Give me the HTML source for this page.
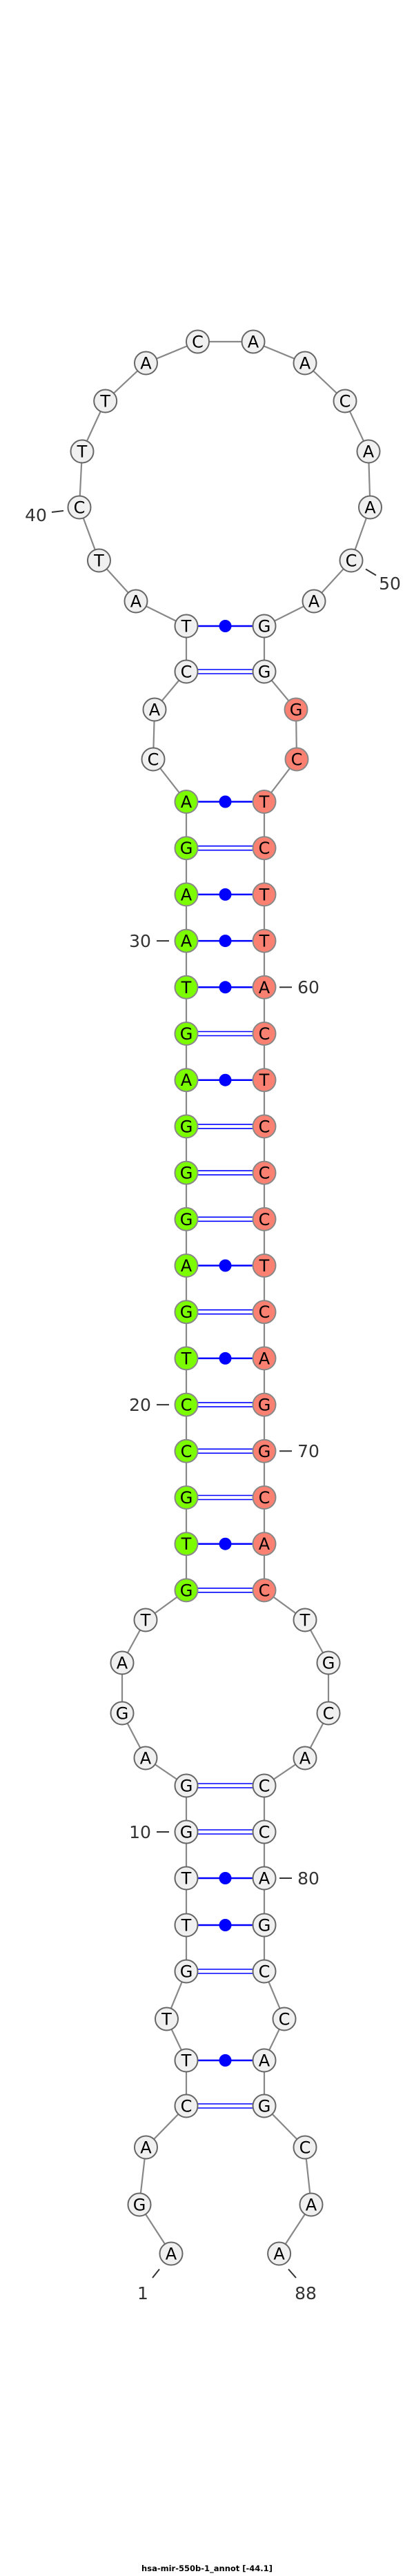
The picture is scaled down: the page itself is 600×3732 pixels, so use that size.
<!DOCTYPE html>
<html><head><meta charset="utf-8"><style>
html,body{margin:0;padding:0;background:#fff}
svg{display:block}
.n{font-family:"DejaVu Sans","Liberation Sans",sans-serif;font-size:24px;text-anchor:middle;fill:#000}
.l{font-family:"DejaVu Sans","Liberation Sans",sans-serif;font-size:25px;text-anchor:middle;fill:#333}
.w{fill:#f0f0f0;stroke:#666;stroke-width:2}
.g{fill:#7cfc00;stroke:#888;stroke-width:2}
.s{fill:#fa8072;stroke:#888;stroke-width:2}
.p{stroke:#00f;stroke-width:2.5}
.d{stroke:#00f;stroke-width:1.6}
</style></head><body>
<svg width="600" height="3732" viewBox="0 0 600 3732" xmlns="http://www.w3.org/2000/svg">
<polyline fill="none" stroke="#888" stroke-width="2.2" points="248,3265 202,3194 211.5,3111 270,3051 270,2985 241.5,2925 270,2856 270,2789 270,2721 270,2654 270,2587 211,2547 177,2482 177,2409 211,2347 270,2303.9 270,2236.7 270,2169.5 270,2102.3 270,2035.1 270,1967.9 270,1900.7 270,1833.5 270,1766.3 270,1699.1 270,1631.9 270,1564.7 270,1497.5 270,1430.3 270,1363.1 270,1295.9 270,1228.7 270,1161.5 222,1100 224,1028 270,973 270,907 197,871 143.5,812 115,735 119,654 152.7,581 211.5,526 286.5,495 367,495 442,526 500,581 534,654 536.5,735 509,812 455,871 383,907 383,973 429,1028 430,1100 383,1161.5 383,1228.7 383,1295.9 383,1363.1 383,1430.3 383,1497.5 383,1564.7 383,1631.9 383,1699.1 383,1766.3 383,1833.5 383,1900.7 383,1967.9 383,2035.1 383,2102.3 383,2169.5 383,2236.7 383,2303.9 442,2347 476,2409 476,2482 442,2547 383,2587 383,2654 383,2721 383,2789 383,2856 412,2925 383,2985 383,3051 442,3111 451,3194 404.6,3265"/>
<!-- single/dot pairs -->
<g class="p">
<line x1="287" y1="907" x2="366" y2="907"/>
<line x1="287" y1="1161.5" x2="366" y2="1161.5"/>
<line x1="287" y1="1295.9" x2="366" y2="1295.9"/>
<line x1="287" y1="1363.1" x2="366" y2="1363.1"/>
<line x1="287" y1="1430.3" x2="366" y2="1430.3"/>
<line x1="287" y1="1564.7" x2="366" y2="1564.7"/>
<line x1="287" y1="1833.5" x2="366" y2="1833.5"/>
<line x1="287" y1="1967.9" x2="366" y2="1967.9"/>
<line x1="287" y1="2236.7" x2="366" y2="2236.7"/>
<line x1="287" y1="2721" x2="366" y2="2721"/>
<line x1="287" y1="2789" x2="366" y2="2789"/>
<line x1="287" y1="2985" x2="366" y2="2985"/>
</g>
<g fill="#00f">
<circle cx="326.5" cy="907" r="9"/>
<circle cx="326.5" cy="1161.5" r="9"/>
<circle cx="326.5" cy="1295.9" r="9"/>
<circle cx="326.5" cy="1363.1" r="9"/>
<circle cx="326.5" cy="1430.3" r="9"/>
<circle cx="326.5" cy="1564.7" r="9"/>
<circle cx="326.5" cy="1833.5" r="9"/>
<circle cx="326.5" cy="1967.9" r="9"/>
<circle cx="326.5" cy="2236.7" r="9"/>
<circle cx="326.5" cy="2721" r="9"/>
<circle cx="326.5" cy="2789" r="9"/>
<circle cx="326.5" cy="2985" r="9"/>
</g>
<!-- double pairs -->
<g class="d">
<line x1="287" y1="970" x2="366" y2="970"/><line x1="287" y1="976" x2="366" y2="976"/>
<line x1="287" y1="1225.7" x2="366" y2="1225.7"/><line x1="287" y1="1231.7" x2="366" y2="1231.7"/>
<line x1="287" y1="1494.5" x2="366" y2="1494.5"/><line x1="287" y1="1500.5" x2="366" y2="1500.5"/>
<line x1="287" y1="1628.9" x2="366" y2="1628.9"/><line x1="287" y1="1634.9" x2="366" y2="1634.9"/>
<line x1="287" y1="1696.1" x2="366" y2="1696.1"/><line x1="287" y1="1702.1" x2="366" y2="1702.1"/>
<line x1="287" y1="1763.3" x2="366" y2="1763.3"/><line x1="287" y1="1769.3" x2="366" y2="1769.3"/>
<line x1="287" y1="1897.7" x2="366" y2="1897.7"/><line x1="287" y1="1903.7" x2="366" y2="1903.7"/>
<line x1="287" y1="2032.1" x2="366" y2="2032.1"/><line x1="287" y1="2038.1" x2="366" y2="2038.1"/>
<line x1="287" y1="2099.3" x2="366" y2="2099.3"/><line x1="287" y1="2105.3" x2="366" y2="2105.3"/>
<line x1="287" y1="2166.5" x2="366" y2="2166.5"/><line x1="287" y1="2172.5" x2="366" y2="2172.5"/>
<line x1="287" y1="2300.9" x2="366" y2="2300.9"/><line x1="287" y1="2306.9" x2="366" y2="2306.9"/>
<line x1="287" y1="2584" x2="366" y2="2584"/><line x1="287" y1="2590" x2="366" y2="2590"/>
<line x1="287" y1="2651" x2="366" y2="2651"/><line x1="287" y1="2657" x2="366" y2="2657"/>
<line x1="287" y1="2853" x2="366" y2="2853"/><line x1="287" y1="2859" x2="366" y2="2859"/>
<line x1="287" y1="3048" x2="366" y2="3048"/><line x1="287" y1="3054" x2="366" y2="3054"/>
</g>
<!-- nodes -->
<g>
<circle class="w" cx="248" cy="3265" r="16.5"/><text class="n" x="248" y="3273.5">A</text>
<circle class="w" cx="202" cy="3194" r="16.5"/><text class="n" x="202" y="3202.5">G</text>
<circle class="w" cx="211.5" cy="3111" r="16.5"/><text class="n" x="211.5" y="3119.5">A</text>
<circle class="w" cx="270" cy="3051" r="16.5"/><text class="n" x="270" y="3059.5">C</text>
<circle class="w" cx="270" cy="2985" r="16.5"/><text class="n" x="270" y="2993.5">T</text>
<circle class="w" cx="241.5" cy="2925" r="16.5"/><text class="n" x="241.5" y="2933.5">T</text>
<circle class="w" cx="270" cy="2856" r="16.5"/><text class="n" x="270" y="2864.5">G</text>
<circle class="w" cx="270" cy="2789" r="16.5"/><text class="n" x="270" y="2797.5">T</text>
<circle class="w" cx="270" cy="2721" r="16.5"/><text class="n" x="270" y="2729.5">T</text>
<circle class="w" cx="270" cy="2654" r="16.5"/><text class="n" x="270" y="2662.5">G</text>
<circle class="w" cx="270" cy="2587" r="16.5"/><text class="n" x="270" y="2595.5">G</text>
<circle class="w" cx="211" cy="2547" r="16.5"/><text class="n" x="211" y="2555.5">A</text>
<circle class="w" cx="177" cy="2482" r="16.5"/><text class="n" x="177" y="2490.5">G</text>
<circle class="w" cx="177" cy="2409" r="16.5"/><text class="n" x="177" y="2417.5">A</text>
<circle class="w" cx="211" cy="2347" r="16.5"/><text class="n" x="211" y="2355.5">T</text>
<circle class="g" cx="270" cy="2303.9" r="16.5"/><text class="n" x="270" y="2312.4">G</text>
<circle class="g" cx="270" cy="2236.7" r="16.5"/><text class="n" x="270" y="2245.2">T</text>
<circle class="g" cx="270" cy="2169.5" r="16.5"/><text class="n" x="270" y="2178">G</text>
<circle class="g" cx="270" cy="2102.3" r="16.5"/><text class="n" x="270" y="2110.8">C</text>
<circle class="g" cx="270" cy="2035.1" r="16.5"/><text class="n" x="270" y="2043.6">C</text>
<circle class="g" cx="270" cy="1967.9" r="16.5"/><text class="n" x="270" y="1976.4">T</text>
<circle class="g" cx="270" cy="1900.7" r="16.5"/><text class="n" x="270" y="1909.2">G</text>
<circle class="g" cx="270" cy="1833.5" r="16.5"/><text class="n" x="270" y="1842">A</text>
<circle class="g" cx="270" cy="1766.3" r="16.5"/><text class="n" x="270" y="1774.8">G</text>
<circle class="g" cx="270" cy="1699.1" r="16.5"/><text class="n" x="270" y="1707.6">G</text>
<circle class="g" cx="270" cy="1631.9" r="16.5"/><text class="n" x="270" y="1640.4">G</text>
<circle class="g" cx="270" cy="1564.7" r="16.5"/><text class="n" x="270" y="1573.2">A</text>
<circle class="g" cx="270" cy="1497.5" r="16.5"/><text class="n" x="270" y="1506">G</text>
<circle class="g" cx="270" cy="1430.3" r="16.5"/><text class="n" x="270" y="1438.8">T</text>
<circle class="g" cx="270" cy="1363.1" r="16.5"/><text class="n" x="270" y="1371.6">A</text>
<circle class="g" cx="270" cy="1295.9" r="16.5"/><text class="n" x="270" y="1304.4">A</text>
<circle class="g" cx="270" cy="1228.7" r="16.5"/><text class="n" x="270" y="1237.2">G</text>
<circle class="g" cx="270" cy="1161.5" r="16.5"/><text class="n" x="270" y="1170">A</text>
<circle class="w" cx="222" cy="1100" r="16.5"/><text class="n" x="222" y="1108.5">C</text>
<circle class="w" cx="224" cy="1028" r="16.5"/><text class="n" x="224" y="1036.5">A</text>
<circle class="w" cx="270" cy="973" r="16.5"/><text class="n" x="270" y="981.5">C</text>
<circle class="w" cx="270" cy="907" r="16.5"/><text class="n" x="270" y="915.5">T</text>
<circle class="w" cx="197" cy="871" r="16.5"/><text class="n" x="197" y="879.5">A</text>
<circle class="w" cx="143.5" cy="812" r="16.5"/><text class="n" x="143.5" y="820.5">T</text>
<circle class="w" cx="115" cy="735" r="16.5"/><text class="n" x="115" y="743.5">C</text>
<circle class="w" cx="119" cy="654" r="16.5"/><text class="n" x="119" y="662.5">T</text>
<circle class="w" cx="152.7" cy="581" r="16.5"/><text class="n" x="152.7" y="589.5">T</text>
<circle class="w" cx="211.5" cy="526" r="16.5"/><text class="n" x="211.5" y="534.5">A</text>
<circle class="w" cx="286.5" cy="495" r="16.5"/><text class="n" x="286.5" y="503.5">C</text>
<circle class="w" cx="367" cy="495" r="16.5"/><text class="n" x="367" y="503.5">A</text>
<circle class="w" cx="442" cy="526" r="16.5"/><text class="n" x="442" y="534.5">A</text>
<circle class="w" cx="500" cy="581" r="16.5"/><text class="n" x="500" y="589.5">C</text>
<circle class="w" cx="534" cy="654" r="16.5"/><text class="n" x="534" y="662.5">A</text>
<circle class="w" cx="536.5" cy="735" r="16.5"/><text class="n" x="536.5" y="743.5">A</text>
<circle class="w" cx="509" cy="812" r="16.5"/><text class="n" x="509" y="820.5">C</text>
<circle class="w" cx="455" cy="871" r="16.5"/><text class="n" x="455" y="879.5">A</text>
<circle class="w" cx="383" cy="907" r="16.5"/><text class="n" x="383" y="915.5">G</text>
<circle class="w" cx="383" cy="973" r="16.5"/><text class="n" x="383" y="981.5">G</text>
<circle class="s" cx="429" cy="1028" r="16.5"/><text class="n" x="429" y="1036.5">G</text>
<circle class="s" cx="430" cy="1100" r="16.5"/><text class="n" x="430" y="1108.5">C</text>
<circle class="s" cx="383" cy="1161.5" r="16.5"/><text class="n" x="383" y="1170">T</text>
<circle class="s" cx="383" cy="1228.7" r="16.5"/><text class="n" x="383" y="1237.2">C</text>
<circle class="s" cx="383" cy="1295.9" r="16.5"/><text class="n" x="383" y="1304.4">T</text>
<circle class="s" cx="383" cy="1363.1" r="16.5"/><text class="n" x="383" y="1371.6">T</text>
<circle class="s" cx="383" cy="1430.3" r="16.5"/><text class="n" x="383" y="1438.8">A</text>
<circle class="s" cx="383" cy="1497.5" r="16.5"/><text class="n" x="383" y="1506">C</text>
<circle class="s" cx="383" cy="1564.7" r="16.5"/><text class="n" x="383" y="1573.2">T</text>
<circle class="s" cx="383" cy="1631.9" r="16.5"/><text class="n" x="383" y="1640.4">C</text>
<circle class="s" cx="383" cy="1699.1" r="16.5"/><text class="n" x="383" y="1707.6">C</text>
<circle class="s" cx="383" cy="1766.3" r="16.5"/><text class="n" x="383" y="1774.8">C</text>
<circle class="s" cx="383" cy="1833.5" r="16.5"/><text class="n" x="383" y="1842">T</text>
<circle class="s" cx="383" cy="1900.7" r="16.5"/><text class="n" x="383" y="1909.2">C</text>
<circle class="s" cx="383" cy="1967.9" r="16.5"/><text class="n" x="383" y="1976.4">A</text>
<circle class="s" cx="383" cy="2035.1" r="16.5"/><text class="n" x="383" y="2043.6">G</text>
<circle class="s" cx="383" cy="2102.3" r="16.5"/><text class="n" x="383" y="2110.8">G</text>
<circle class="s" cx="383" cy="2169.5" r="16.5"/><text class="n" x="383" y="2178">C</text>
<circle class="s" cx="383" cy="2236.7" r="16.5"/><text class="n" x="383" y="2245.2">A</text>
<circle class="s" cx="383" cy="2303.9" r="16.5"/><text class="n" x="383" y="2312.4">C</text>
<circle class="w" cx="442" cy="2347" r="16.5"/><text class="n" x="442" y="2355.5">T</text>
<circle class="w" cx="476" cy="2409" r="16.5"/><text class="n" x="476" y="2417.5">G</text>
<circle class="w" cx="476" cy="2482" r="16.5"/><text class="n" x="476" y="2490.5">C</text>
<circle class="w" cx="442" cy="2547" r="16.5"/><text class="n" x="442" y="2555.5">A</text>
<circle class="w" cx="383" cy="2587" r="16.5"/><text class="n" x="383" y="2595.5">C</text>
<circle class="w" cx="383" cy="2654" r="16.5"/><text class="n" x="383" y="2662.5">C</text>
<circle class="w" cx="383" cy="2721" r="16.5"/><text class="n" x="383" y="2729.5">A</text>
<circle class="w" cx="383" cy="2789" r="16.5"/><text class="n" x="383" y="2797.5">G</text>
<circle class="w" cx="383" cy="2856" r="16.5"/><text class="n" x="383" y="2864.5">C</text>
<circle class="w" cx="412" cy="2925" r="16.5"/><text class="n" x="412" y="2933.5">C</text>
<circle class="w" cx="383" cy="2985" r="16.5"/><text class="n" x="383" y="2993.5">A</text>
<circle class="w" cx="383" cy="3051" r="16.5"/><text class="n" x="383" y="3059.5">G</text>
<circle class="w" cx="442" cy="3111" r="16.5"/><text class="n" x="442" y="3119.5">C</text>
<circle class="w" cx="451" cy="3194" r="16.5"/><text class="n" x="451" y="3202.5">A</text>
<circle class="w" cx="404.6" cy="3265" r="16.5"/><text class="n" x="404.6" y="3273.5">A</text>
</g>
<!-- labels -->
<g stroke="#333" stroke-width="2">
<line x1="75" y1="742" x2="92" y2="740"/>
<line x1="530" y1="824.5" x2="545" y2="833.5"/>
<line x1="227" y1="1363.1" x2="245" y2="1363.1"/>
<line x1="405" y1="1430.3" x2="423" y2="1430.3"/>
<line x1="227" y1="2035.1" x2="245" y2="2035.1"/>
<line x1="405" y1="2102.3" x2="423" y2="2102.3"/>
<line x1="227" y1="2654" x2="245" y2="2654"/>
<line x1="405" y1="2721" x2="423" y2="2721"/>
<line x1="221" y1="3300" x2="231" y2="3287.5"/>
<line x1="418" y1="3287.5" x2="429" y2="3300"/>
</g>
<text class="l" x="52" y="755">40</text>
<text class="l" x="565" y="854">50</text>
<text class="l" x="203" y="1372">30</text>
<text class="l" x="447" y="1439">60</text>
<text class="l" x="203" y="2044">20</text>
<text class="l" x="447" y="2111">70</text>
<text class="l" x="203" y="2663">10</text>
<text class="l" x="447" y="2730">80</text>
<text class="l" x="207" y="3331">1</text>
<text class="l" x="443" y="3331">88</text>
<text x="300" y="3725" text-anchor="middle" font-family="'DejaVu Sans','Liberation Sans',sans-serif" font-weight="bold" font-size="11.5" fill="#000">hsa-mir-550b-1_annot [-44.1]</text>
</svg>
</body></html>
